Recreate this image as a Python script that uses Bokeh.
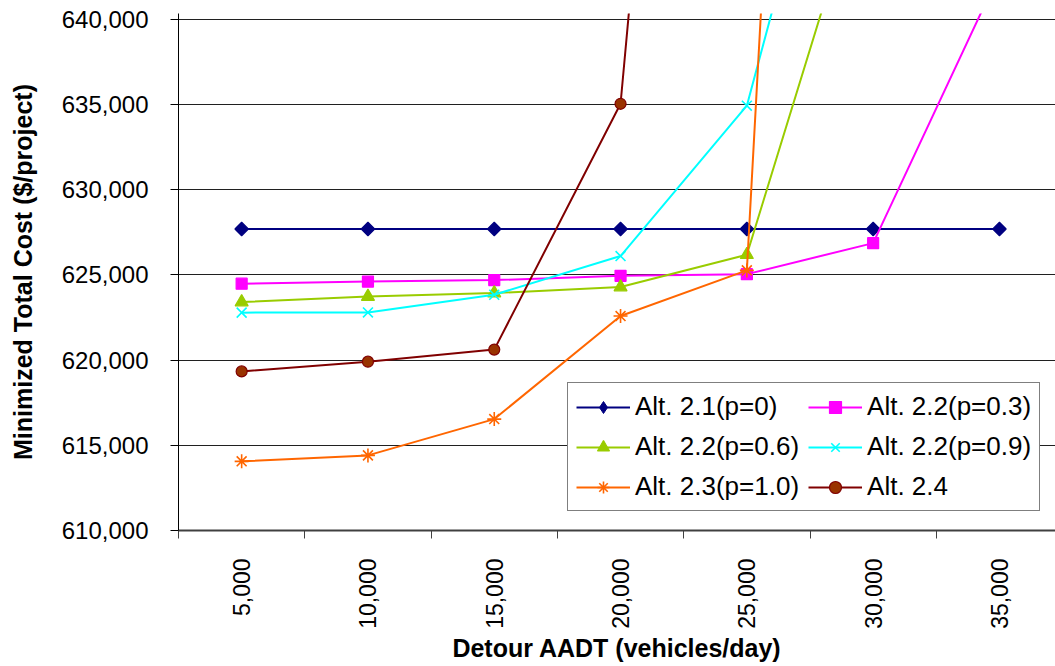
import math
from bokeh.plotting import figure
from bokeh.models import Range1d, FixedTicker, NumeralTickFormatter, Legend, LegendItem
from bokeh.embed import file_html
from bokeh.resources import INLINE

# ---- data ----
categories = ["5,000", "10,000", "15,000", "20,000", "25,000", "30,000", "35,000"]
alt21_p0 = [627700, 627700, 627700, 627700, 627700, 627700, 627700]
alt22_p03 = [624490, 624610, 624700, 624950, 625050, 626870, 642700]
alt22_p06 = [623410, 623730, 623940, 624290, 626190, 650300, None]
alt22_p09 = [622790, 622800, 623840, 626110, 634940, 662600, None]
alt23_p10 = [614060, 614410, 616540, 622590, 625270, 761000, None]
alt24 = [619340, 619910, 620620, 635050, 716100, None, None]
y_ticks = [610000, 615000, 620000, 625000, 630000, 635000, 640000]

FONT = "Liberation Sans"

def clean(vals):
    return [float("nan") if v is None else v for v in vals]

xs = [i + 0.5 for i in range(len(categories))]

p = figure(width=1055, height=664, output_backend="svg", toolbar_location=None,
           x_range=Range1d(0, 877 / 126.3), y_range=Range1d(610000, 640350),
           min_border_left=178, min_border_right=0, min_border_top=13, min_border_bottom=134)
p.outline_line_color = None
p.background_fill_color = "white"
p.border_fill_color = "white"

# axes
p.xaxis.ticker = FixedTicker(ticks=xs, minor_ticks=list(range(len(categories) + 1)))
p.xaxis.major_label_overrides = {x: c for x, c in zip(xs, categories)}
p.xaxis.major_label_orientation = math.pi / 2
p.xaxis.major_tick_out = 0
p.xaxis.major_tick_in = 0
p.xaxis.minor_tick_out = 8
p.xaxis.minor_tick_in = 0
p.xaxis.minor_tick_line_color = "#404040"
p.xaxis.axis_line_color = "#404040"
p.xaxis.axis_line_width = 2
p.xaxis.major_label_standoff = 20
p.xaxis.major_label_text_font = FONT
p.xaxis.major_label_text_font_size = "23px"
p.xaxis.major_label_text_color = "black"
p.xaxis.axis_label = "Detour AADT (vehicles/day)"
p.xaxis.axis_label_text_font = FONT
p.xaxis.axis_label_text_font_size = "25px"
p.xaxis.axis_label_text_font_style = "bold"
p.xaxis.axis_label_text_color = "black"
p.xaxis.axis_label_standoff = 2

p.yaxis.ticker = FixedTicker(ticks=y_ticks)
p.yaxis.formatter = NumeralTickFormatter(format="0,0")
p.yaxis.major_tick_out = 8
p.yaxis.major_tick_in = 0
p.yaxis.minor_tick_out = 0
p.yaxis.minor_tick_in = 0
p.yaxis.major_tick_line_color = "black"
p.yaxis.axis_line_color = "black"
p.yaxis.major_label_standoff = 22
p.yaxis.major_label_text_font = FONT
p.yaxis.major_label_text_font_size = "24px"
p.yaxis.major_label_text_color = "black"
p.yaxis.axis_label = "Minimized Total Cost ($/project)"
p.yaxis.axis_label_text_font = FONT
p.yaxis.axis_label_text_font_size = "25px"
p.yaxis.axis_label_text_font_style = "bold"
p.yaxis.axis_label_text_color = "black"
p.yaxis.axis_label_standoff = 22

p.xgrid.visible = False
p.ygrid.ticker = FixedTicker(ticks=y_ticks)
p.ygrid.grid_line_color = "#202020"
p.ygrid.grid_line_width = 1

# label, values, line colour, marker, fill, marker line, size, angle
series = [
    ("Alt. 2.1(p=0)", alt21_p0, "#000080", "square", "#000080", "#000080", 9.5, math.pi / 4),
    ("Alt. 2.2(p=0.3)", alt22_p03, "#FF00FF", "square", "#FF00FF", "#FF00FF", 11, 0),
    ("Alt. 2.2(p=0.6)", alt22_p06, "#99CC00", "triangle", "#99CC00", "#99CC00", 13, 0),
    ("Alt. 2.2(p=0.9)", alt22_p09, "#00FFFF", "x", None, "#00FFFF", 14, 0),
    ("Alt. 2.3(p=1.0)", alt23_p10, "#FF6600", "asterisk", None, "#FF6600", 14, 0),
    ("Alt. 2.4", alt24, "#800000", "circle", "#993300", "#800000", 11, 0),
]

items = {}
for label, vals, color, marker, fill, mline, size, ang in series:
    ys = clean(vals)
    r1 = p.line(xs, ys, line_color=color, line_width=2)
    r2 = p.scatter(xs, ys, marker=marker, size=size, angle=ang, fill_color=fill,
                   line_color=mline, line_width=1.6 if marker in ("x", "asterisk") else 1.2)
    if ang:
        # legend glyphs ignore the rotation; a hidden-point diamond marker draws the key
        nan = float("nan")
        r2 = p.scatter([nan], [nan], marker="diamond", size=16, fill_color=fill, line_color=mline)
    items[label] = LegendItem(label=label, renderers=[r1, r2])

# column-major fill: left column first, then right column
order = ["Alt. 2.1(p=0)", "Alt. 2.2(p=0.6)", "Alt. 2.3(p=1.0)",
         "Alt. 2.2(p=0.3)", "Alt. 2.2(p=0.9)", "Alt. 2.4"]
legend = Legend(items=[items[k] for k in order], location=(389, 19), ncols=2,
                label_text_font=FONT, label_text_font_size="26px", label_text_color="black",
                glyph_width=54, glyph_height=30, label_standoff=5, spacing=9,
                padding=8, margin=0, border_line_color="black", border_line_width=1,
                background_fill_color="white", background_fill_alpha=1.0)
p.add_layout(legend, "center")

open("out.html", "w").write(file_html(p, INLINE))
